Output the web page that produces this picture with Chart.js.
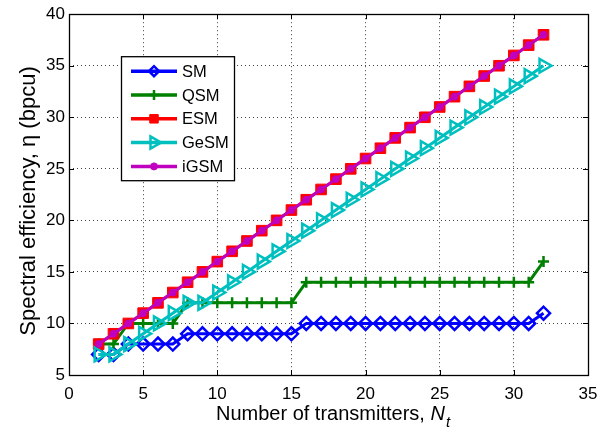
<!DOCTYPE html>
<html><head><meta charset="utf-8">
<script src="https://cdn.jsdelivr.net/npm/chart.js@4.4.0/dist/chart.umd.min.js"></script>
<style>html,body{margin:0;padding:0;background:#fff;}#wrap{width:612px;height:432px;position:relative;}</style>
</head><body><div id="wrap"><canvas id="c" width="612" height="432"></canvas></div>
<script>
// ---- data ----
const nt = [2,3,4,5,6,7,8,9,10,11,12,13,14,15,16,17,18,19,20,21,22,23,24,25,26,27,28,29,30,31,32];
const seriesNames = ['SM','QSM','ESM','GeSM','iGSM'];
const smValues   = [7,7,8,8,8,8,9,9,9,9,9,9,9,9,10,10,10,10,10,10,10,10,10,10,10,10,10,10,10,10,11];
const qsmValues  = [8,8,10,10,10,10,12,12,12,12,12,12,12,12,14,14,14,14,14,14,14,14,14,14,14,14,14,14,14,14,16];
const esmValues  = [8,9,10,11,12,13,14,15,16,17,18,19,20,21,22,23,24,25,26,27,28,29,30,31,32,33,34,35,36,37,38];
const gesmValues = [7,7,8,9,10,11,12,12,13,14,15,16,17,18,19,20,21,22,23,24,25,26,27,28,29,30,31,32,33,34,35];
const igsmValues = [8,9,10,11,12,13,14,15,16,17,18,19,20,21,22,23,24,25,26,27,28,29,30,31,32,33,34,35,36,37,38];
const xTicks = [0,5,10,15,20,25,30,35];
const yTicks = [5,10,15,20,25,30,35,40];
const xTitle = 'Number of transmitters, ';
const xTitleVar = 'N';
const xTitleSub = 't';
const yTitle = 'Spectral efficiency, \u03B7 (bpcu)';

const FONT = '"Liberation Sans", Arial, Helvetica, sans-serif';
const pts = vals => nt.map((x, i) => ({x: x, y: vals[i]}));

const styles = [
  {color:'#0000FF', fill:'rgba(0,0,0,0)', style:'rectRot', r:6.5, rot:0, bw:2.5, lr:5},
  {color:'#008000', fill:'#008000', style:'cross', r:5.5, rot:0, bw:2.5, lr:5},
  {color:'#FF0000', fill:'#FF0000', style:'rect', r:7.5, rot:0, bw:1, lr:6},
  {color:'#00BFBF', fill:'rgba(0,0,0,0)', style:'triangle', r:8, rot:90, bw:2.5, lr:7},
  {color:'#BF00BF', fill:'#BF00BF', style:'circle', r:3.5, rot:0, bw:1, lr:3.5}
];
const allValues = [smValues, qsmValues, esmValues, gesmValues, igsmValues];

const datasets = seriesNames.map((name, k) => ({
  label: name,
  data: pts(allValues[k]),
  borderColor: styles[k].color,
  backgroundColor: styles[k].fill,
  borderWidth: 3,
  pointStyle: styles[k].style,
  pointRadius: styles[k].r,
  pointRotation: styles[k].rot,
  pointBorderWidth: styles[k].bw,
  pointBorderColor: styles[k].color,
  pointBackgroundColor: styles[k].fill,
  showLine: true,
  tension: 0,
  order: 5 - k
}));

const framePlugin = {
  id: 'frame',
  afterDatasetsDraw(chart) {
    const ctx = chart.ctx, a = chart.chartArea;
    const xs = chart.scales.x, ys = chart.scales.y;
    ctx.save();
    ctx.strokeStyle = '#000';
    ctx.lineWidth = 1;
    ctx.setLineDash([]);
    ctx.beginPath();
    const tl = 5;
    xTicks.forEach(v => {
      const px = Math.round(xs.getPixelForValue(v)) + 0.5;
      ctx.moveTo(px, a.bottom); ctx.lineTo(px, a.bottom - tl);
      ctx.moveTo(px, a.top); ctx.lineTo(px, a.top + tl);
    });
    yTicks.forEach(v => {
      const py = Math.round(ys.getPixelForValue(v)) + 0.5;
      ctx.moveTo(a.left, py); ctx.lineTo(a.left + tl, py);
      ctx.moveTo(a.right, py); ctx.lineTo(a.right - tl, py);
    });
    ctx.stroke();
    ctx.lineWidth = 1.3;
    ctx.strokeRect(Math.round(a.left)+0.5, Math.round(a.top)+0.5, Math.round(a.right - a.left), Math.round(a.bottom - a.top));

    // legend
    const lx = a.left + 52, ly = a.top + 42, lw = 113, lh = 124;
    ctx.fillStyle = '#fff';
    ctx.fillRect(lx, ly, lw, lh);
    ctx.lineWidth = 1.3;
    ctx.strokeStyle = '#000';
    ctx.strokeRect(lx + 0.5, ly + 0.5, lw, lh);
    chart.data.datasets.forEach((ds, k) => {
      const y = ly + 15 + k * 23.8;
      ctx.strokeStyle = ds.borderColor;
      ctx.lineWidth = 3.5;
      ctx.beginPath();
      ctx.moveTo(lx + 10, y); ctx.lineTo(lx + 56, y);
      ctx.stroke();
      ctx.fillStyle = ds.pointBackgroundColor;
      ctx.strokeStyle = ds.pointBorderColor;
      ctx.lineWidth = ds.pointBorderWidth;
      Chart.helpers.drawPoint(ctx, {
        pointStyle: ds.pointStyle, radius: styles[k].lr, rotation: ds.pointRotation,
        borderWidth: ds.pointBorderWidth
      }, lx + 33, y);
      ctx.fillStyle = '#000';
      ctx.font = '16.5px ' + FONT;
      ctx.textBaseline = 'middle';
      ctx.textAlign = 'left';
      ctx.fillText(ds.label, lx + 61, y + 1);
    });

    // axis titles
    ctx.fillStyle = '#000';
    ctx.font = '20px ' + FONT;
    const w1 = ctx.measureText(xTitle).width;
    ctx.font = 'italic 20px ' + FONT;
    const w2 = ctx.measureText(xTitleVar).width;
    ctx.font = 'italic 15px ' + FONT;
    const w3 = ctx.measureText(xTitleSub).width;
    const cx = (a.left + a.right) / 2 + 4;
    let x0 = cx - (w1 + w2 + w3) / 2;
    const by = 420;
    ctx.textAlign = 'left';
    ctx.textBaseline = 'alphabetic';
    ctx.font = '20px ' + FONT;
    ctx.fillText(xTitle, x0, by);
    ctx.font = 'italic 20px ' + FONT;
    ctx.fillText(xTitleVar, x0 + w1, by);
    ctx.font = 'italic 15px ' + FONT;
    ctx.fillText(xTitleSub, x0 + w1 + w2 + 1, by + 7);

    ctx.save();
    ctx.translate(35, 201);
    ctx.rotate(-Math.PI / 2);
    ctx.font = '22px ' + FONT;
    ctx.textAlign = 'center';
    ctx.textBaseline = 'alphabetic';
    ctx.fillText(yTitle, 0, 0);
    ctx.restore();
    ctx.restore();
  }
};

new Chart(document.getElementById('c'), {
  type: 'line',
  data: { datasets: datasets },
  options: {
    responsive: false,
    animation: false,
    devicePixelRatio: 1,
    layout: { padding: { top: 11, right: 24, left: 0, bottom: 0 } },
    plugins: { legend: { display: false }, tooltip: { enabled: false } },
    scales: {
      x: {
        type: 'linear', min: 0, max: 35,
        afterBuildTicks: s => { s.ticks = xTicks.map(v => ({value: v})); },
        afterFit: s => { s.height = 57; },
        ticks: { color: '#000', font: { size: 17, family: FONT }, padding: 9, maxRotation: 0 },
        grid: { color: 'rgba(0,0,0,0.75)', lineWidth: 1, drawTicks: false },
        border: { display: false, dash: [1, 3] }
      },
      y: {
        type: 'linear', min: 5, max: 40,
        afterBuildTicks: s => { s.ticks = yTicks.map(v => ({value: v})); },
        afterFit: s => { s.width = 69; },
        ticks: { color: '#000', font: { size: 17, family: FONT }, padding: 4 },
        grid: { color: 'rgba(0,0,0,0.75)', lineWidth: 1, drawTicks: false },
        border: { display: false, dash: [1, 3] }
      }
    }
  },
  plugins: [framePlugin]
});
</script></body></html>
